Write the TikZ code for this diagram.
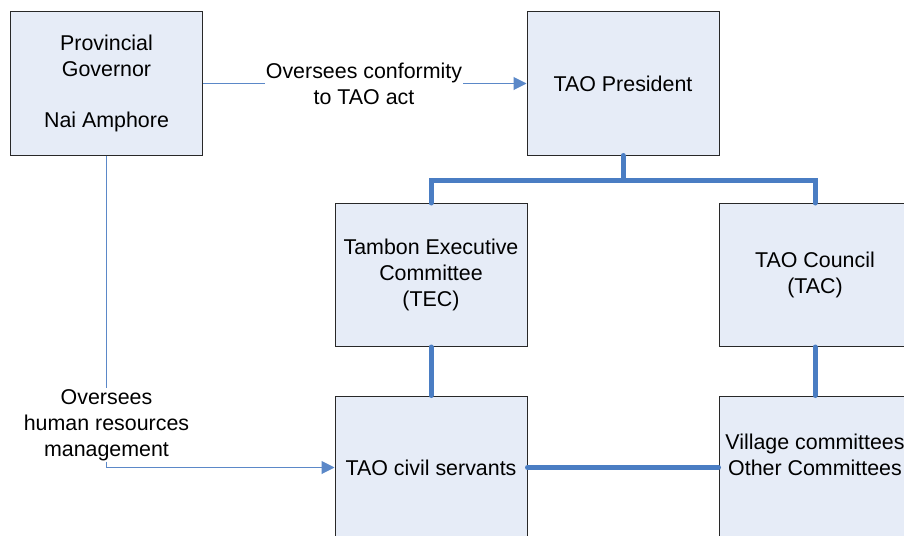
\documentclass[tikz,border=0pt]{standalone}
\usepackage{fontspec}
\setmainfont{Liberation Sans}
\usetikzlibrary{arrows.meta}
\definecolor{boxfill}{RGB}{230,236,247}
\definecolor{boxline}{RGB}{40,40,40}
\definecolor{linkblue}{RGB}{74,125,195}
\definecolor{thinblue}{RGB}{91,136,200}
\tikzset{
  orgbox/.style={draw=boxline, line width=1pt, fill=boxfill, minimum width=192pt, minimum height=143pt, inner sep=2pt, align=center, text=black},
  lbl/.style={inner sep=1pt, align=center, text=black},
  heavy/.style={draw=linkblue, line width=5pt, line cap=round},
  thin/.style={draw=thinblue, line width=1pt},
  tip/.style={-{Triangle[length=13pt,width=13pt]}}
}
\begin{document}
\begin{tikzpicture}[x=1pt,y=-1pt, every node/.style={font=\fontsize{21.4pt}{25.8pt}\selectfont}]
\useasboundingbox (0,0) rectangle (904,535);
\clip (0,0) rectangle (904,535);
\fill[white] (0,0) rectangle (904,535);
\node[orgbox] (gov) at (106.5,83.5) {Provincial\\Governor\\ \\Nai Amphore};
\node[orgbox] (pres) at (623,83.5) {TAO President};
\node[orgbox] (tec) at (431,275) {Tambon Executive\\Committee\\(TEC)};
\node[orgbox] (tac) at (815,275) {TAO Council\\(TAC)};
\node[orgbox] (civ) at (431,467.5) {TAO civil servants};
\node[orgbox] (vil) at (815,467.5) {Village committees\\Other Committees\\ };
\node[lbl] (lab1) at (364,84) {Oversees conformity\\to TAO act};
\node[lbl] (lab2) at (106.5,425) {Oversees\\human resources\\management};
\coordinate (j) at (623,180);
\draw[thin] (gov.east) -- (gov.east -| lab1.west);
\draw[thin, tip] (gov.east -| lab1.east) -- (pres.west);
\draw[thin] (gov.south) -- (lab2.north);
\draw[thin, tip] (lab2.south) |- (civ.west);
\draw[heavy] (pres.south) -- (j);
\draw[heavy] (tec.north) |- (j) -| (tac.north);
\draw[heavy] (tec.south) -- (civ.north);
\draw[heavy] (tac.south) -- (vil.north);
\draw[heavy] (civ.east) -- (vil.west);
\end{tikzpicture}
\end{document}
